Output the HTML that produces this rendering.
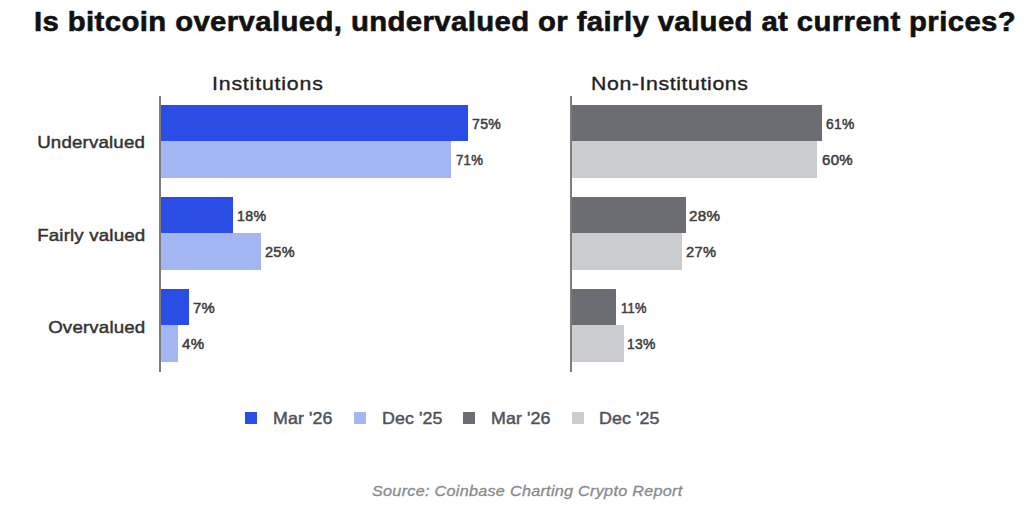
<!DOCTYPE html>
<html><head><meta charset="utf-8">
<style>
html,body{margin:0;padding:0;background:#fff;}
body{width:1024px;height:515px;position:relative;overflow:hidden;font-family:"Liberation Sans",sans-serif;}
.t{position:absolute;white-space:nowrap;line-height:1;}
.title{left:34px;top:8px;font-size:27.5px;font-weight:bold;color:#111;letter-spacing:0.38px;transform:scaleX(1.065);transform-origin:0 0;-webkit-text-stroke:0.6px #111;}
.head{font-size:19px;color:#222;letter-spacing:0.74px;transform:scaleX(1.12);transform-origin:0 0;-webkit-text-stroke:0.35px #222;}
.cat{font-size:17px;color:#333;letter-spacing:0.15px;transform:scaleX(1.1);transform-origin:100% 0;-webkit-text-stroke:0.45px #333;}
.val{font-size:14.5px;color:#3d3d3d;letter-spacing:0.3px;-webkit-text-stroke:0.5px #3d3d3d;transform-origin:0 0;}
.axis{position:absolute;width:2px;background:#7c7c7c;}
.bar{position:absolute;}
.b1{background:#2a4de6;}
.b2{background:#a3b5f2;}
.g1{background:#6b6d72;}
.g2{background:#cbccd0;}
.leg{font-size:16.5px;color:#50525a;letter-spacing:0.1px;transform:scaleX(1.08);transform-origin:0 0;-webkit-text-stroke:0.45px #50525a;}
.sq{position:absolute;width:12px;height:12px;}
.src{left:372px;font-size:15.3px;font-style:italic;color:#8a8a8a;letter-spacing:0.25px;transform:scaleX(1.06);transform-origin:0 0;-webkit-text-stroke:0.3px #8a8a8a;}
</style></head><body>
<div class="t title">Is bitcoin overvalued, undervalued or fairly valued at current prices?</div>

<div class="t head" style="left:212px;top:73.8px;">Institutions</div>
<div class="t head" style="left:591px;top:73.8px;letter-spacing:0.54px;">Non-Institutions</div>

<div class="t cat" style="right:879px;top:134.4px;">Undervalued</div>
<div class="t cat" style="right:879px;top:226.6px;">Fairly valued</div>
<div class="t cat" style="right:879px;top:318.6px;">Overvalued</div>

<!-- left bars -->
<div class="bar b1" style="left:160px;top:105px;width:308px;height:36px;"></div>
<div class="bar b2" style="left:160px;top:141px;width:291px;height:37px;"></div>
<div class="bar b1" style="left:160px;top:197px;width:73px;height:36px;"></div>
<div class="bar b2" style="left:160px;top:233px;width:101px;height:37px;"></div>
<div class="bar b1" style="left:160px;top:289px;width:29px;height:36px;"></div>
<div class="bar b2" style="left:160px;top:325px;width:18px;height:37px;"></div>
<div class="axis" style="left:159px;top:96px;height:276px;"></div>

<!-- right bars -->
<div class="bar g1" style="left:571px;top:105px;width:251px;height:36px;"></div>
<div class="bar g2" style="left:571px;top:141px;width:246px;height:37px;"></div>
<div class="bar g1" style="left:571px;top:197px;width:115px;height:36px;"></div>
<div class="bar g2" style="left:571px;top:233px;width:111px;height:37px;"></div>
<div class="bar g1" style="left:571px;top:289px;width:45px;height:36px;"></div>
<div class="bar g2" style="left:571px;top:325px;width:53px;height:37px;"></div>
<div class="axis" style="left:570px;top:96px;height:276px;"></div>

<!-- values -->
<div class="t val" style="left:471.80px;top:117px;transform:scaleX(0.973);">75%</div>
<div class="t val" style="left:455.50px;top:153px;transform:scaleX(0.907);">71%</div>
<div class="t val" style="left:236.62px;top:209px;transform:scaleX(0.979);">18%</div>
<div class="t val" style="left:265.10px;top:245px;transform:scaleX(0.997);">25%</div>
<div class="t val" style="left:193.20px;top:301px;transform:scaleX(1.024);">7%</div>
<div class="t val" style="left:182.00px;top:337px;transform:scaleX(1.038);">4%</div>

<div class="t val" style="left:826.00px;top:117px;transform:scaleX(0.957);">61%</div>
<div class="t val" style="left:821.70px;top:153px;transform:scaleX(1.037);">60%</div>
<div class="t val" style="left:688.80px;top:209px;transform:scaleX(1.047);">28%</div>
<div class="t val" style="left:686.30px;top:245px;transform:scaleX(1.010);">27%</div>
<div class="t val" style="left:620.71px;top:301px;transform:scaleX(0.889);">11%</div>
<div class="t val" style="left:626.74px;top:337px;transform:scaleX(0.962);">13%</div>

<!-- legend -->
<div class="sq b1" style="left:245px;top:412px;"></div>
<div class="t leg" style="left:273px;top:410px;">Mar '26</div>
<div class="sq b2" style="left:354px;top:412px;"></div>
<div class="t leg" style="left:382.3px;top:410px;">Dec '25</div>
<div class="sq g1" style="left:463px;top:412px;"></div>
<div class="t leg" style="left:490.5px;top:410px;">Mar '26</div>
<div class="sq g2" style="left:572px;top:412px;"></div>
<div class="t leg" style="left:599.4px;top:410px;">Dec '25</div>

<div class="t src" style="top:483px;">Source: Coinbase Charting Crypto Report</div>
</body></html>
